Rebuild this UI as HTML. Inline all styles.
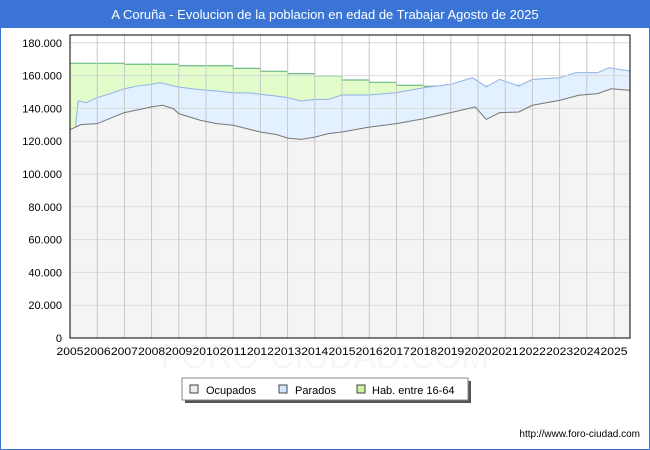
<!DOCTYPE html>
<html><head><meta charset="utf-8"><style>
body{margin:0;background:#fff;}
#wrap{position:relative;width:650px;height:450px;overflow:hidden;font-family:"Liberation Sans","DejaVu Sans",sans-serif;}
</style></head><body>
<div id="wrap">
<svg id="c" width="650" height="450" xmlns="http://www.w3.org/2000/svg">
<rect x="0" y="0" width="650" height="450" fill="#fff" stroke="#3a75d6" stroke-width="2"/>
<rect x="0" y="0" width="650" height="28" fill="#3a75d6"/>
<text x="325" y="19" text-anchor="middle" fill="#fff" font-size="13">A Coruña - Evolucion de la poblacion en edad de Trabajar Agosto de 2025</text>
<text x="325" y="368" text-anchor="middle" fill="#f7f7fa" font-size="34">FORO-CIUDAD.COM</text>
<g id="plot"></g>
<g>
<rect x="185" y="381" width="286" height="22" fill="#555"/>
<rect x="182" y="378" width="286" height="22" fill="#fff" stroke="#888"/>
<rect x="190" y="385" width="8" height="8" fill="#eee" stroke="#444"/>
<text x="206" y="394" font-size="11" fill="#000">Ocupados</text>
<rect x="279" y="385" width="8" height="8" fill="#cfe6ff" stroke="#444"/>
<text x="295" y="394" font-size="11" fill="#000">Parados</text>
<rect x="357" y="385" width="8" height="8" fill="#ccf5a0" stroke="#444"/>
<text x="372" y="394" font-size="11" fill="#000">Hab. entre 16-64</text>
</g>
<text x="640" y="437" text-anchor="end" font-size="10" fill="#000">http://www.foro-ciudad.com</text>
</svg>
</div>
<script>
const yearLabels=["2005","2006","2007","2008","2009","2010","2011","2012","2013","2014","2015","2016","2017","2018","2019","2020","2021","2022","2023","2024","2025"];
const yTicks=[0,20000,40000,60000,80000,100000,120000,140000,160000,180000];
const habYears=[2005,2006,2007,2008,2009,2010,2011,2012,2013,2014,2015,2016,2017,2018,2019,2020,2021,2022,2023,2024,2025];
const habValues=[167500,167500,166900,166900,166000,166000,164400,162600,161200,159800,157300,155900,154100,153500,153500,153500,154000,154500,155000,155500,156000];
const parTimes=[2005.0,2005.2,2005.3,2005.6,2006.0,2006.4,2007.0,2007.5,2008.0,2008.3,2009.0,2009.7,2010.4,2011.0,2011.6,2012.0,2012.6,2013.0,2013.5,2014.0,2014.5,2015.0,2016.0,2017.0,2018.0,2019.0,2019.8,2020.3,2020.8,2021.5,2022.0,2023.0,2023.6,2024.4,2024.8,2025.6];
const parValues=[127000,128000,144500,143500,146600,148600,152000,153700,154700,155700,153000,151600,150600,149500,149500,148600,147500,146600,144500,145500,145500,148200,148200,149600,152600,154700,158700,153200,157700,153600,157700,158700,161800,161800,164800,162800];
const ocuTimes=[2005.0,2005.4,2006.0,2006.6,2007.0,2007.4,2008.0,2008.4,2008.8,2009.0,2009.8,2010.4,2011.0,2012.0,2012.6,2013.0,2013.5,2014.0,2014.5,2015.0,2016.0,2017.0,2018.0,2019.0,2019.9,2020.3,2020.8,2021.5,2022.0,2023.0,2023.7,2024.4,2024.9,2025.6];
const ocuValues=[127000,130100,130700,134800,137400,138800,140900,141900,139800,136800,132700,130700,129700,125600,124000,121900,121100,122500,124600,125600,128600,130700,133700,137400,140900,133300,137400,137800,141900,144900,148000,149000,152000,151000];
const X0=70,X1=630,Y0=338,END=2025.6;
const px=t=>X0+(t-2005)*27.2;
const py=v=>Y0-v*0.00164;
const ns="http://www.w3.org/2000/svg";
const g=document.getElementById('plot');
function mk(tag,attrs){const e=document.createElementNS(ns,tag);for(const k in attrs)e.setAttribute(k,attrs[k]);g.appendChild(e);return e;}
let e=mk('rect',{x:X0,y:35,width:X1-X0,height:Y0-35,fill:'#fff'});


let hp=`M${X0},${Y0}`;
habYears.forEach((yr,i)=>{const x1=px(yr),x2=Math.min(px(yr+1),X1);hp+=` L${x1},${py(habValues[i])} L${x2},${py(habValues[i])}`;});
hp+=` L${X1},${Y0} Z`;
e=mk('path',{d:hp,fill:'#e2fdca',stroke:'none'});


let hl='';habYears.forEach((yr,i)=>{const x1=px(yr),x2=Math.min(px(yr+1),X1);hl+=(i?' L':'M')+`${x1},${py(habValues[i])} L${x2},${py(habValues[i])}`;});
e=mk('path',{d:hl,fill:'none',stroke:'#6dbb86',"stroke-width":1.2});


function series(times,vals){return times.map((t,i)=>`${px(t)},${py(vals[i])}`).join(' L');}
e=mk('path',{d:`M${X0},${Y0} L${series(parTimes,parValues)} L${px(END)},${Y0} Z`,fill:'#e2f0ff'});


e=mk('path',{d:`M${series(parTimes,parValues)}`,fill:'none',stroke:'#8fb2e6',"stroke-width":1});


e=mk('path',{d:`M${X0},${Y0} L${series(ocuTimes,ocuValues)} L${px(END)},${Y0} Z`,fill:'#f4f4f4'});


yTicks.forEach(v=>{
 const l=mk('line',{x1:X0,x2:X1,y1:py(v),y2:py(v),stroke:'#dcdcdc',"stroke-width":1});
 
 
 const t=mk('text',{x:62,y:py(v)+4,"text-anchor":'end',"font-size":11,fill:'#000'});
 t.textContent=v===0?'0':(v/1000).toFixed(3);
 
 
});
yearLabels.forEach((lab,i)=>{
 const x=px(2005+i);
 const l=mk('line',{x1:x,x2:x,y1:35,y2:Y0,stroke:'#c8c8c8',"stroke-width":1});
 
 
 const t=mk('text',{x:x,y:355,"text-anchor":'middle',"font-size":11,fill:'#000',textLength:27,lengthAdjust:'spacingAndGlyphs'});
 t.textContent=lab;
 
 
});
e=mk('path',{d:`M${series(ocuTimes,ocuValues)}`,fill:'none',stroke:'#777',"stroke-width":1});


e=mk('rect',{x:X0,y:35,width:X1-X0,height:Y0-35,fill:'none',stroke:'#000',"stroke-width":1});


</script>
</body></html>
